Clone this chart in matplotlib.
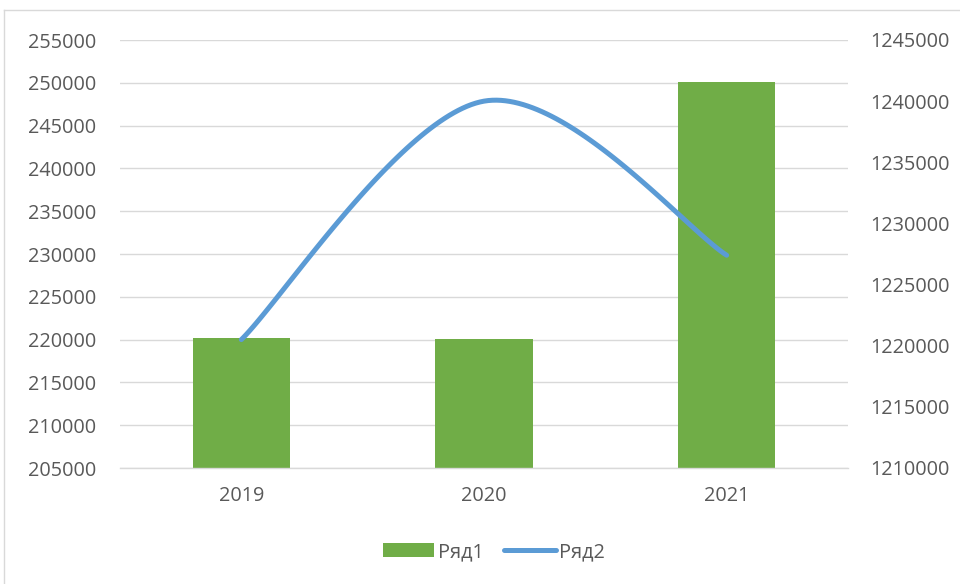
import matplotlib
matplotlib.use("Agg")
import matplotlib.pyplot as plt
import numpy as np
from matplotlib.patches import Patch
from matplotlib.lines import Line2D
from matplotlib.ticker import FuncFormatter

categories = ["2019", "2020", "2021"]
series1 = [220150, 220080, 250150]        # Ряд1 (bars, left axis)
series2 = [1220500, 1240000, 1227400]     # Ряд2 (smooth line, right axis)
left_ticks = list(range(205000, 255001, 5000))
right_ticks = list(range(1210000, 1245001, 5000))

plt.rcParams['font.family'] = ['Open Sans', 'DejaVu Sans']
txt = '#595959'
grid_c = '#D9D9D9'
green = '#70AD47'
blue = '#5B9BD5'
fs = 14.3

fig = plt.figure(figsize=(9.6, 5.84), dpi=100)
ax = fig.add_axes([120/960, 1-468/584, 728/960, 428/584])
ax2 = ax.twinx()

x = np.arange(len(categories))
ax.bar(x, series1, width=0.4, color=green, zorder=2)
ax.set_xlim(-0.5, len(categories)-0.5)
ax.set_ylim(left_ticks[0], left_ticks[-1])
ax.set_yticks(left_ticks)
ax.yaxis.set_major_formatter(FuncFormatter(lambda v, p: f"{int(round(v))}"))
ax.set_xticks(x)
ax.set_xticklabels(categories)
ax.yaxis.grid(True, color=grid_c, linewidth=1.0, zorder=0)
ax.set_axisbelow(True)
for s in ['top', 'right', 'left']:
    ax.spines[s].set_visible(False)
ax.spines['bottom'].set_color(grid_c)
ax.spines['bottom'].set_linewidth(1.0)
ax.tick_params(axis='both', length=0, labelsize=fs, colors=txt)
ax.tick_params(axis='y', pad=17)
ax.tick_params(axis='x', pad=13)

ax2.set_ylim(right_ticks[0], right_ticks[-1])
ax2.set_yticks(right_ticks)
ax2.yaxis.set_major_formatter(FuncFormatter(lambda v, p: f"{int(round(v))}"))
for s in ['top', 'right', 'left', 'bottom']:
    ax2.spines[s].set_visible(False)
ax2.tick_params(axis='y', length=0, labelsize=fs, colors=txt, pad=16)

# smooth line (Excel-like Bezier spline) computed in pixel-proportional space
W, H = 728.0, 428.0
yr = right_ticks[-1] - right_ticks[0]
px = (x + 0.5) / len(categories) * W
py = (np.array(series2) - right_ticks[0]) / yr * H
P = np.column_stack([px, py])
n = len(P)
pts = []
for i in range(n - 1):
    p0 = P[i-1] if i > 0 else P[i]
    p1 = P[i]
    p2 = P[i+1]
    p3 = P[i+2] if i + 2 < n else P[i+1]
    c1 = p1 + (p2 - p0) / 6.0
    c2 = p2 - (p3 - p1) / 6.0
    t = np.linspace(0, 1, 60)[:, None]
    seg = (1-t)**3*p1 + 3*(1-t)**2*t*c1 + 3*(1-t)*t**2*c2 + t**3*p2
    pts.append(seg if i == 0 else seg[1:])
pts = np.vstack(pts)
cx = pts[:, 0] / W * len(categories) - 0.5
cy = pts[:, 1] / H * yr + right_ticks[0]
ax2.plot(cx, cy, color=blue, linewidth=3.6, solid_capstyle='round', zorder=3)
ax2.set_xlim(-0.5, len(categories)-0.5)

# legend
handles = [Patch(facecolor=green, edgecolor='none', label='Ряд1'),
           Line2D([0], [0], color=blue, linewidth=3.6, solid_capstyle='round', label='Ряд2')]
fig.legend(handles=handles, loc='center', bbox_to_anchor=(494/960, 1-552/584),
           ncol=2, frameon=False, fontsize=fs, labelcolor=txt,
           handlelength=2.6, handleheight=0.75, handletextpad=0.2, columnspacing=1.0)

# chart border
fig.add_artist(Line2D([4/960, 4/960], [0, 1-10/584], transform=fig.transFigure, color=grid_c, linewidth=1.0))
fig.add_artist(Line2D([4/960, 1], [1-10/584, 1-10/584], transform=fig.transFigure, color=grid_c, linewidth=1.0))

fig.savefig("out.png", dpi=100)
